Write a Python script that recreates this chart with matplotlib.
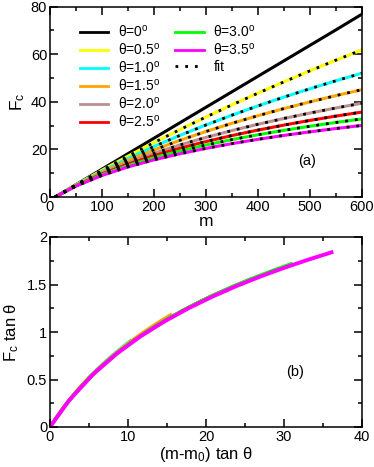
import numpy as np
import matplotlib
matplotlib.use("Agg")
import matplotlib.pyplot as plt
from matplotlib.ticker import MultipleLocator
from matplotlib.lines import Line2D

plt.rcParams['font.family'] = ['Liberation Sans', 'DejaVu Sans']
plt.rcParams['mathtext.fontset'] = 'custom'
plt.rcParams['mathtext.rm'] = 'Liberation Sans'
plt.rcParams['mathtext.it'] = 'Liberation Sans'

# ---- data ----
m_values = [10, 50, 100, 150, 200, 250, 300, 350, 400, 450, 500, 550, 600]
m0 = 10
theta_deg = [0.0, 0.5, 1.0, 1.5, 2.0, 2.5, 3.0, 3.5]
labels = ["0", "0.5", "1.0", "1.5", "2.0", "2.5", "3.0", "3.5"]
colors = ["black", "#FFFF00", "#00FFFF", "#FFA500", "#BC8F8F", "#FF0000", "#00FF00", "#FF00FF"]

F_0_0 = [0, 5.2, 11.7, 18.2, 24.7, 31.2, 37.7, 44.2, 50.7, 57.2, 63.7, 70.2, 76.8]
F_0_5 = [0, 5.11, 11.26, 17.17, 22.85, 28.32, 33.59, 38.68, 43.61, 48.37, 52.99, 57.47, 61.81]
F_1_0 = [0, 5.02, 10.84, 16.21, 21.21, 25.87, 30.25, 34.37, 38.27, 41.96, 45.47, 48.82, 52.01]
F_1_5 = [0, 4.93, 10.43, 15.34, 19.77, 23.81, 27.52, 30.96, 34.15, 37.14, 39.94, 42.59, 45.08]
F_2_0 = [0, 4.82, 9.99, 14.45, 18.37, 21.87, 25.03, 27.91, 30.55, 32.99, 35.27, 37.39, 39.39]
F_2_5 = [0, 4.74, 9.66, 13.80, 17.36, 20.49, 23.29, 25.81, 28.10, 30.21, 32.17, 33.98, 35.68]
F_3_0 = [0, 4.66, 9.35, 13.21, 16.49, 19.33, 21.85, 24.10, 26.14, 28.00, 29.72, 31.31, 32.80]
F_3_5 = [0, 4.57, 9.04, 12.62, 15.61, 18.17, 20.42, 22.42, 24.23, 25.87, 27.37, 28.76, 30.06]
F_series = [F_0_0, F_0_5, F_1_0, F_1_5, F_2_0, F_2_5, F_3_0, F_3_5]

W, H = 374, 467
fig = plt.figure(figsize=(W / 100, H / 100), dpi=100)

def px_axes(l, t, r, b):
    return fig.add_axes([l / W, 1 - b / H, (r - l) / W, (b - t) / H])

ax1 = px_axes(50, 6.5, 362, 197)
ax2 = px_axes(50, 237, 362, 427)

fit_style = dict(color="black", lw=2.0, linestyle=(0, (1, 2.5)))
m = np.array(m_values, dtype=float)

handles = []
for th, lab, c, F in zip(theta_deg, labels, colors, F_series):
    ax1.plot(m, F, color=c, lw=2.2, solid_capstyle='butt')
    handles.append(Line2D([], [], color=c, lw=2.0,
                          label=r"θ=" + lab + r"$^{\mathrm{o}}$"))
for th, F in zip(theta_deg[1:], F_series[1:]):
    ax1.plot(m, F, **fit_style)
handles.append(Line2D([], [], label="fit", **fit_style))

for th, c, F in zip(theta_deg[1:], colors[1:], F_series[1:]):
    t = np.tan(np.radians(th))
    ax2.plot((m - m0) * t, np.array(F) * t, color=c, lw=2.3 if th < 3.4 else 2.8)

ax1.set_xlim(0, 600)
ax1.set_ylim(0, 80)
ax2.set_xlim(0, 40)
ax2.set_ylim(0, 2)

ax1.xaxis.set_major_locator(MultipleLocator(100))
ax1.xaxis.set_minor_locator(MultipleLocator(50))
ax1.yaxis.set_major_locator(MultipleLocator(20))
ax1.yaxis.set_minor_locator(MultipleLocator(10))
ax2.xaxis.set_major_locator(MultipleLocator(10))
ax2.xaxis.set_minor_locator(MultipleLocator(5))
ax2.yaxis.set_major_locator(MultipleLocator(0.5))
ax2.yaxis.set_minor_locator(MultipleLocator(0.25))
ax2.set_yticks([0, 0.5, 1, 1.5, 2])
ax2.set_yticklabels(["0", "0.5", "1", "1.5", "2"])

for ax in (ax1, ax2):
    for s in ax.spines.values():
        s.set_linewidth(1.1)
    ax.tick_params(which='both', direction='in', top=True, right=True,
                   labelsize=10.5, width=1.1, pad=2)
    ax.tick_params(which='major', length=6)
    ax.tick_params(which='minor', length=3)

ax1.set_xlabel("m", fontsize=12.5, labelpad=0)
ax1.set_ylabel(r"F$_{\mathrm{c}}$", fontsize=12.5, labelpad=3)
ax2.set_xlabel(r"(m-m$_{\mathrm{0}}$) tan θ", fontsize=12, labelpad=1)
ax2.set_ylabel(r"F$_{\mathrm{c}}$ tan θ", fontsize=12, labelpad=4)

ax1.text(0.823, 0.19, "(a)", transform=ax1.transAxes, fontsize=10.5, ha='center', va='center')
ax2.text(0.787, 0.29, "(b)", transform=ax2.transAxes, fontsize=10.5, ha='center', va='center')

leg_kw = dict(loc='upper left', frameon=False, fontsize=10, handlelength=2.05,
              handletextpad=0.7, labelspacing=0.145, borderpad=0, borderaxespad=0)
leg1 = ax1.legend(handles=handles[:6], bbox_to_anchor=(0.096, 0.908), **leg_kw)
ax1.add_artist(leg1)
ax1.legend(handles=handles[6:], bbox_to_anchor=(0.401, 0.908), **leg_kw)

fig.savefig("out.png", dpi=100)
